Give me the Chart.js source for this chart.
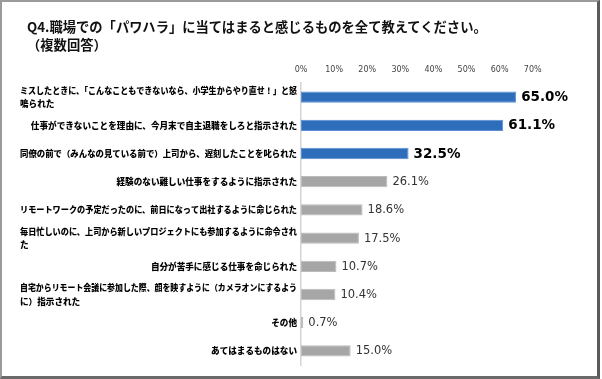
<!DOCTYPE html>
<html><head><meta charset="utf-8">
<script src="https://cdn.jsdelivr.net/npm/chart.js@4"></script>
<style>
html,body{margin:0;padding:0;background:#fff;}
#frame{position:absolute;left:0;top:0;width:600px;height:379px;box-sizing:border-box;border-top:2px solid #9a9a9a;border-left:2px solid #9a9a9a;border-right:3px solid #5a5a5a;border-bottom:3px solid #6a6a6a;}
#wrap{position:absolute;left:0;top:0;width:602px;height:379px;}
.t{position:absolute;font-family:"Noto Sans CJK JP";font-weight:bold;font-size:13.3px;line-height:18px;color:#111;white-space:nowrap;}
</style></head>
<body>
<div id="frame"></div>
<div id="wrap"><canvas id="c"></canvas></div>
<div class="t" style="left:27px;top:18px">Q4.職場での「パワハラ」に当てはまると感じるものを全て教えてください。</div>
<div class="t" style="left:27px;top:36px">（複数回答）</div>
<script>
const categories = [
  ["ミスしたときに、「こんなこともできないなら、小学生からやり直せ！」と怒", "鳴られた"],
  ["仕事ができないことを理由に、今月末で自主退職をしろと指示された"],
  ["同僚の前で（みんなの見ている前で）上司から、遅刻したことを叱られた"],
  ["経験のない難しい仕事をするように指示された"],
  ["リモートワークの予定だったのに、前日になって出社するように命じられた"],
  ["毎日忙しいのに、上司から新しいプロジェクトにも参加するように命令され", "た"],
  ["自分が苦手に感じる仕事を命じられた"],
  ["自宅からリモート会議に参加した際、顔を映すように（カメラオンにするよう", "に）指示された"],
  ["その他"],
  ["あてはまるものはない"]
];
const values = [65.0, 61.1, 32.5, 26.1, 18.6, 17.5, 10.7, 10.4, 0.7, 15.0];
const highlightCount = 3;
const xTicks = [0, 10, 20, 30, 40, 50, 60, 70];

const BLUE = '#2E6DB9', BLUE_EDGE = '#5C8FD4', GRAY = '#A6A6A6', GRAY_EDGE = '#BBBBBB';

const textPlugin = {
  id: 'texts',
  afterDatasetsDraw(chart) {
    const ctx = chart.ctx;
    const ys = chart.scales.y;
    const meta = chart.getDatasetMeta(0);
    ctx.save();
    // category labels
    ctx.font = '900 8.6px "Noto Sans CJK JP"';
    ctx.fillStyle = '#000';
    ctx.textBaseline = 'middle';
    const right = chart.chartArea.left - 4;
    const maxW = right - 20;
    const lineH = 13.5;
    categories.forEach((lines, i) => {
      const cy = ys.getPixelForValue(i);
      const y0 = cy - (lines.length - 1) * lineH / 2;
      const w0 = Math.min(ctx.measureText(lines[0]).width, maxW);
      const left = right - w0;
      lines.forEach((ln, k) => {
        if (k === 0) { ctx.textAlign = 'right'; ctx.fillText(ln, right, y0, maxW); }
        else { ctx.textAlign = 'left'; ctx.fillText(ln, left, y0 + k * lineH, maxW); }
      });
    });
    // value labels
    ctx.textAlign = 'left';
    meta.data.forEach((el, i) => {
      if (i < highlightCount) { ctx.font = 'bold 13.5px "DejaVu Sans"'; ctx.fillStyle = '#000'; }
      else { ctx.font = '11.5px "DejaVu Sans"'; ctx.fillStyle = '#333'; }
      ctx.fillText(values[i].toFixed(1) + '%', el.x + 5, el.y + 0.5);
    });
    ctx.restore();
  }
};

new Chart(document.getElementById('c'), {
  type: 'bar',
  data: {
    labels: categories,
    datasets: [{
      data: values,
      backgroundColor: values.map((v, i) => i < highlightCount ? BLUE : GRAY),
      borderColor: values.map((v, i) => i < highlightCount ? BLUE_EDGE : GRAY_EDGE),
      borderWidth: 1,
      borderSkipped: false,
      barPercentage: 0.4,
      categoryPercentage: 1.0
    }]
  },
  options: {
    indexAxis: 'y',
    responsive: true,
    maintainAspectRatio: false,
    devicePixelRatio: 1,
    animation: false,
    layout: { padding: { left: 301, right: 69.3, top: 63, bottom: 14 } },
    plugins: { legend: { display: false }, tooltip: { enabled: false }, title: { display: false } },
    scales: {
      x: {
        position: 'top',
        min: 0, max: 70,
        afterBuildTicks: s => { s.ticks = xTicks.map(v => ({ value: v })); },
        afterFit: s => { s.height = 20; },
        ticks: { padding: 8, color: '#444', font: { family: 'DejaVu Sans', size: 8 }, callback: v => v + '%' },
        grid: { display: false, drawTicks: false },
        border: { display: false }
      },
      y: {
        ticks: { display: false },
        afterFit: s => { s.width = 0; },
        grid: { display: false, drawTicks: false },
        border: { display: true, color: '#D4D4D4', width: 1.5 }
      }
    }
  },
  plugins: [textPlugin]
});
</script>
</body></html>
